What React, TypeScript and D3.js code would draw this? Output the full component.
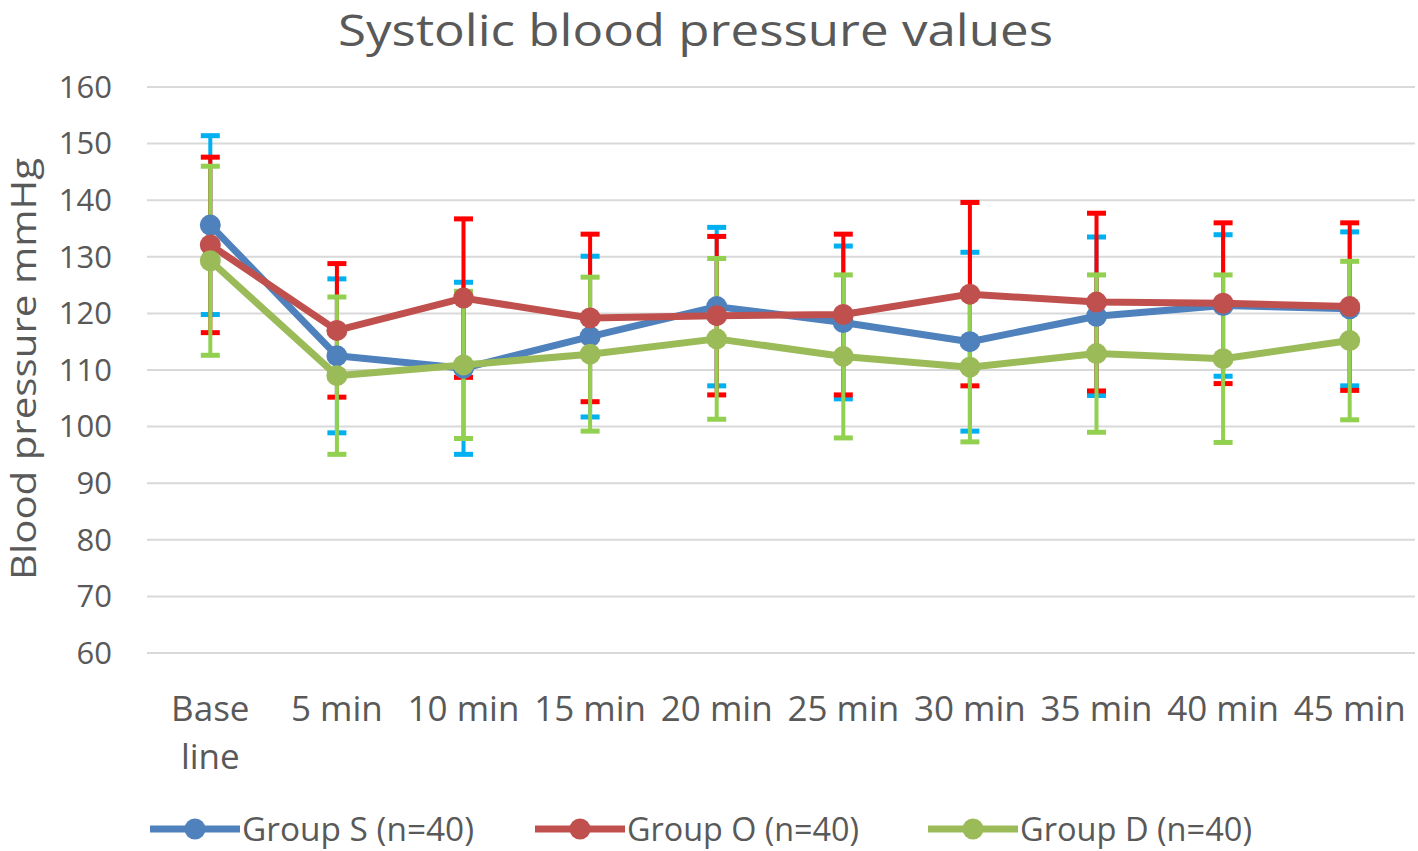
import React from "react";
import * as d3 from "d3";

const categories = ["Base line", "5 min", "10 min", "15 min", "20 min", "25 min", "30 min", "35 min", "40 min", "45 min"];
const yTicks = [60, 70, 80, 90, 100, 110, 120, 130, 140, 150, 160];

const groupSMean = [135.6, 112.5, 110.3, 115.9, 121.2, 118.4, 115.0, 119.5, 121.4, 120.8];
const groupSSD = [15.8, 13.6, 15.2, 14.2, 14.0, 13.5, 15.8, 14.0, 12.5, 13.6];
const groupOMean = [132.1, 117.0, 122.7, 119.2, 119.6, 119.8, 123.4, 122.0, 121.8, 121.2];
const groupOSD = [15.5, 11.8, 14.0, 14.8, 14.0, 14.2, 16.2, 15.7, 14.2, 14.8];
const groupDMean = [129.3, 109.0, 110.9, 112.8, 115.5, 112.4, 110.5, 112.9, 112.0, 115.2];
const groupDSD = [16.7, 13.9, 13.0, 13.6, 14.2, 14.4, 13.2, 13.9, 14.8, 14.0];

const seriesNames = ["Group S (n=40)", "Group O (n=40)", "Group D (n=40)"];
const lineColors = ["#4F81BD", "#C0504D", "#9BBB59"];
const errColors = ["#00B0F0", "#FF0000", "#92D050"];

const FONT = "'Open Sans', 'Liberation Sans', sans-serif";
const TXT = "#595959";

export default function App() {
  const W = 1418, H = 851;
  const x = d3.scaleBand<string>().domain(categories).range([147, 1413]);
  const y = d3.scaleLinear().domain([60, 160]).range([653, 87]);
  const cx = (c: string) => (x(c) as number) + x.bandwidth() / 2;

  const series = [
    { mean: groupSMean, sd: groupSSD },
    { mean: groupOMean, sd: groupOSD },
    { mean: groupDMean, sd: groupDSD },
  ];

  const line = d3
    .line<number>()
    .x((_, i) => cx(categories[i]))
    .y((v) => y(v));

  const capW = 19;
  const legendX = [150, 535, 928];

  return (
    <svg
      width={W}
      height={H}
      style={{ position: "absolute", left: 0, top: 0, background: "#fff" }}
      fontFamily={FONT}
    >
      <rect x={0} y={0} width={W} height={H} fill="#fff" />
      {/* title */}
      <text x={695.5} y={46} textAnchor="middle" fontSize={43} fill={TXT} textLength={715} lengthAdjust="spacingAndGlyphs">
        Systolic blood pressure values
      </text>

      {/* gridlines */}
      {yTicks.map((t) => (
        <line key={t} x1={147} x2={1415} y1={y(t)} y2={y(t)} stroke="#D9D9D9" strokeWidth={2} />
      ))}
      {/* y tick labels */}
      {yTicks.map((t) => (
        <text key={"l" + t} x={112} y={y(t)} dy="0.35em" textAnchor="end" fontSize={31} fill={TXT}>
          {t}
        </text>
      ))}
      {/* y axis title */}
      <text
        transform={`translate(36,369) rotate(-90)`}
        textAnchor="middle"
        fontSize={34}
        fill={TXT}
        textLength={422}
        lengthAdjust="spacingAndGlyphs"
      >
        Blood pressure mmHg
      </text>

      {/* x labels */}
      {categories.map((c) => {
        const parts = c === "Base line" ? ["Base", "line"] : [c];
        return (
          <text key={c} x={cx(c)} y={721} textAnchor="middle" fontSize={35} fill={TXT}>
            {parts.map((p, i) => (
              <tspan key={i} x={cx(c)} dy={i === 0 ? 0 : 48}>
                {p}
              </tspan>
            ))}
          </text>
        );
      })}

      {/* error bars */}
      {series.map((s, si) => (
        <g key={"e" + si} stroke={errColors[si]}>
          {s.mean.map((m, i) => {
            const px = cx(categories[i]);
            const top = y(m + s.sd[i]);
            const bot = y(m - s.sd[i]);
            return (
              <g key={i}>
                <line x1={px} x2={px} y1={top} y2={bot} strokeWidth={4} />
                <line x1={px - capW / 2} x2={px + capW / 2} y1={top} y2={top} strokeWidth={5} />
                <line x1={px - capW / 2} x2={px + capW / 2} y1={bot} y2={bot} strokeWidth={5} />
              </g>
            );
          })}
        </g>
      ))}

      {/* lines and markers */}
      {series.map((s, si) => (
        <g key={"s" + si}>
          <path d={line(s.mean) || ""} fill="none" stroke={lineColors[si]} strokeWidth={7} strokeLinejoin="round" />
          {s.mean.map((m, i) => (
            <circle key={i} cx={cx(categories[i])} cy={y(m)} r={10.5} fill={lineColors[si]} />
          ))}
        </g>
      ))}

      {/* legend */}
      {seriesNames.map((n, i) => (
        <g key={n}>
          <line x1={legendX[i]} x2={legendX[i] + 90} y1={829} y2={829} stroke={lineColors[i]} strokeWidth={7} />
          <circle cx={legendX[i] + 45} cy={829} r={10.5} fill={lineColors[i]} />
          <text x={legendX[i] + 92} y={841} fontSize={33} fill={TXT} textLength={232} lengthAdjust="spacingAndGlyphs">
            {n}
          </text>
        </g>
      ))}
    </svg>
  );
}
